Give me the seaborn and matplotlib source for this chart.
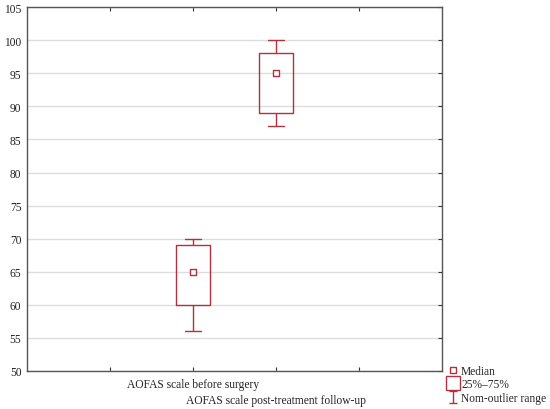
import numpy as np
import pandas as pd
import matplotlib
matplotlib.use("Agg")
import matplotlib.pyplot as plt
import seaborn as sns
from matplotlib.lines import Line2D

# summary values: min, Q1, median, Q3, max
groups = ["AOFAS scale before surgery", "AOFAS scale post-treatment follow-up"]
positions = [2, 3]
before_surgery = [56, 60, 65, 69, 70]
after_followup = [87, 89, 95, 98, 100]
medians = [65, 95]
y_ticks = list(range(50, 106, 5))

red = "#b2313d"
fs = 8.3

sns.set_theme(style="white")
plt.rcParams["font.family"] = ["Liberation Serif", "DejaVu Serif"]

df = pd.DataFrame({
    "pos": np.repeat(positions, 5),
    "score": before_surgery + after_followup,
})

fig = plt.figure(figsize=(5.5, 4.1), dpi=100)
ax = fig.add_axes([0.049, 0.093, 0.755, 0.887])

sns.boxplot(data=df, x="pos", y="score", native_scale=True, width=0.4,
            fill=False, color=red, linewidth=1.0, whis=1.5, ax=ax,
            medianprops=dict(linewidth=0), showfliers=False)

sns.scatterplot(x=positions, y=medians, marker="s", s=16, facecolor="white",
                edgecolor=red, linewidth=1.0, ax=ax, zorder=5, legend=False)

ax.set_xlim(0, 5)
ax.set_ylim(50, 105)
ax.set_yticks(y_ticks)
# first group label on major ticks, second one (staggered lower) on a minor tick
ax.set_xticks([1, 2, 4])
ax.set_xticklabels(["", groups[0], ""])
ax.set_xticks([3], minor=True)
ax.set_xticklabels([groups[1]], minor=True)
ax.set_xlabel("")
ax.set_ylabel("")
ax.yaxis.grid(True, color="#dddddd", linewidth=1.0)
ax.set_axisbelow(True)
ax.tick_params(which="both", direction="in", length=3, width=0.8, color="#333333",
               top=True, right=True, bottom=True, left=False,
               labelsize=fs, pad=5, labelcolor="#222222")
ax.tick_params(axis="x", which="minor", pad=16.5)
ax.tick_params(axis="y", pad=4)
for sp in ax.spines.values():
    sp.set_color("#555555")
    sp.set_linewidth(1.0)

# legend
eb = ax.errorbar([np.nan], [np.nan], yerr=[1], fmt="none", ecolor=red,
                 capsize=3, elinewidth=1.0, capthick=1.0)
handles = [
    Line2D([], [], linestyle="none", marker="s", markersize=4,
           markerfacecolor="white", markeredgecolor=red, markeredgewidth=1.0),
    Line2D([], [], linestyle="none", marker="s", markersize=10,
           markerfacecolor="white", markeredgecolor=red, markeredgewidth=1.0),
    eb,
]
labels = ["Median", "25%\u201375%", "Nom-outlier range"]
fig.legend(handles, labels, loc="lower left", bbox_to_anchor=(0.805, -0.002),
           frameon=False, fontsize=fs, handlelength=0.8, handletextpad=0.3,
           labelspacing=0.15, borderaxespad=0.3, borderpad=0.2)

fig.savefig("out.png", dpi=100)
